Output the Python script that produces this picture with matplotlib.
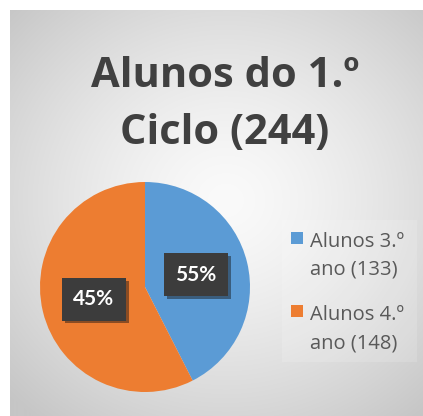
import numpy as np
import matplotlib.pyplot as plt
from matplotlib import patheffects as pe
from matplotlib.patches import Rectangle

# dados
titulo = ["Alunos do 1.º", "Ciclo (244)"]
categorias = ["Alunos 3.º\nano (133)", "Alunos 4.º\nano (148)"]
fatias = [42.5, 57.5]          # parte visível de cada fatia (%)
rotulos = ["55%", "45%"]       # rótulos tal como aparecem
cores = ["#5b9bd5", "#ed7d31"]

W, H = 423, 416
fig = plt.figure(figsize=(W / 100, H / 100), dpi=100)
fig.patch.set_facecolor("white")

# fundo com gradiente radial
bg = fig.add_axes([10 / W, 0, (W - 10) / W, (H - 10) / H])
yy, xx = np.mgrid[0:H - 10, 0:W - 10]
d = np.sqrt(((xx - 215) / 300.0) ** 2 + ((yy - 190) / 280.0) ** 2)
g = 250 - 52 * np.clip(d, 0, 1) ** 1.4
bg.imshow(np.dstack([g, g, g]) / 255.0, extent=[0, 1, 0, 1], aspect="auto")
bg.set_axis_off()

# título (duas linhas)
for i, linha in enumerate(titulo):
    fig.text(225 / W, 1 - (87 + 57 * i) / H, linha, ha="center",
             va="baseline", fontsize=30, weight="bold", color="#404040",
             family="Open Sans")

# pizza
r = 105
cx, cy = 145, 287
ax = fig.add_axes([(cx - r) / W, (H - cy - r) / H, 2 * r / W, 2 * r / H])
wedges, texts = ax.pie(fatias, labels=rotulos, colors=cores, startangle=90,
                       counterclock=False, labeldistance=0.5,
                       wedgeprops=dict(linewidth=0))
ax.set_xlim(-1, 1)
ax.set_ylim(-1, 1)
for t in texts:
    t.set_ha("center")
    t.set_va("center")
    t.set_color("white")
    t.set_fontsize(15)
    t.set_weight("bold")
    t.set_family("Lato")
    t.set_bbox(dict(boxstyle="square,pad=0.55", facecolor="#3c3c3c",
                    edgecolor="none"))
    t.get_bbox_patch().set_path_effects(
        [pe.SimplePatchShadow(offset=(2, -2), alpha=0.45), pe.Normal()])

# legenda
fig.patches.append(Rectangle((282 / W, 1 - 362 / H), 135 / W, 142 / H,
                             transform=fig.transFigure, facecolor="white",
                             alpha=0.15, edgecolor="none"))
for i, (lab, cor) in enumerate(zip(categorias, cores)):
    y0 = 237.5 + 73 * i
    fig.patches.append(Rectangle((291 / W, 1 - (y0 + 6) / H), 12 / W, 12 / H,
                                 transform=fig.transFigure, facecolor=cor,
                                 edgecolor="none"))
    for j, linha in enumerate(lab.split("\n")):
        fig.text(310 / W, 1 - (y0 + 9.5 + 28 * j) / H, linha, ha="left",
                 va="baseline", fontsize=14.5, color="#595959",
                 family="Open Sans")

fig.savefig("out.png", dpi=100)
